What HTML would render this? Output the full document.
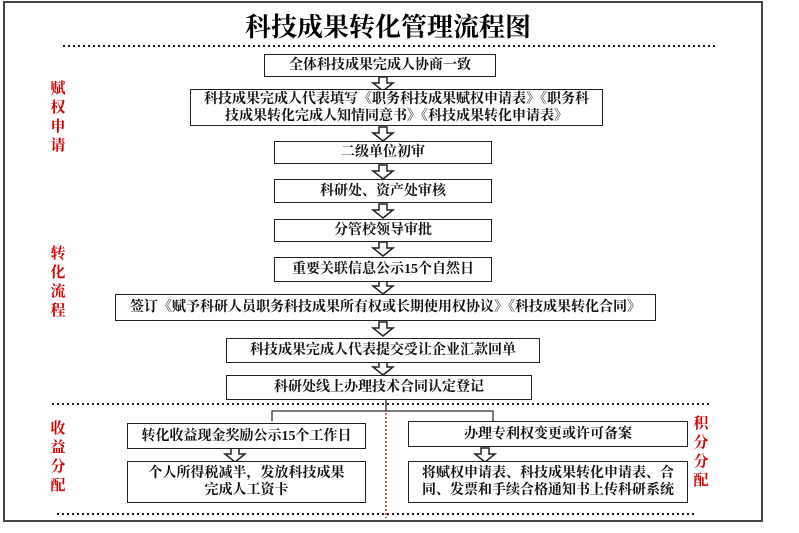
<!DOCTYPE html>
<html><head><meta charset="utf-8"><style>
body{margin:0;width:799px;height:533px;background:#fff;position:relative;overflow:hidden;font-family:"Liberation Serif","Noto Serif CJK SC",serif;}
.b{position:absolute;border:1.5px solid #222;box-sizing:border-box;display:flex;align-items:center;justify-content:center;text-align:center;font-size:14px;line-height:17px;color:#111;background:#fff;font-weight:bold;}
.r{position:absolute;color:#d40000;font-weight:bold;font-size:15px;line-height:19px;width:16px;text-align:center;}
svg{position:absolute;left:0;top:0;}
</style></head><body>
<svg width="799" height="533">
<rect x="4" y="2" width="758" height="519" fill="none" stroke="#444" stroke-width="2"/>
<g stroke="#222" stroke-width="2" stroke-dasharray="2,3">
<line x1="63" y1="46" x2="718" y2="46"/>
<line x1="52" y1="404" x2="712" y2="404"/>
<line x1="57" y1="514" x2="697" y2="514"/>
</g>
<line x1="386" y1="393" x2="386" y2="518" stroke="#d40000" stroke-width="1.3" stroke-dasharray="2,2"/>
<polyline points="272,421 272,411 493,411 493,421" fill="none" stroke="#333" stroke-width="1.3"/>
<line x1="386" y1="399" x2="386" y2="411" stroke="#333" stroke-width="1.3"/>
<g fill="#fff" stroke="#222" stroke-width="1.5">
<path id="a" d="M-4,0 h8 v6 h6 l-10,8 l-10,-8 h6 z" transform="translate(383,77)"/>
<use href="#a" x="0" y="50"/>
<use href="#a" x="0" y="88"/>
<use href="#a" x="0" y="127"/>
<use href="#a" x="0" y="165"/>
<use href="#a" x="0" y="203"/>
<use href="#a" x="0" y="245"/>
<use href="#a" x="0" y="284"/>
<use href="#a" x="-148" y="371"/>
<use href="#a" x="102" y="371"/>
</g>
</svg>
<div style="position:absolute;left:0;width:776px;top:12px;text-align:center;font-size:26px;font-weight:bold;line-height:32px;">科技成果转化管理流程图</div>
<div class="b" style="left:264px;top:54px;width:232px;height:23px;">全体科技成果完成人协商一致</div>
<div class="b" style="left:190px;top:89px;width:413px;height:37px;">科技成果完成人代表填写《职务科技成果赋权申请表》《职务科<br>技成果转化完成人知情同意书》《科技成果转化申请表》</div>
<div class="b" style="left:274px;top:141px;width:218px;height:23px;">二级单位初审</div>
<div class="b" style="left:274px;top:179px;width:218px;height:24px;">科研处、资产处审核</div>
<div class="b" style="left:274px;top:219px;width:218px;height:23px;">分管校领导审批</div>
<div class="b" style="left:274px;top:257px;width:218px;height:25px;">重要关联信息公示15个自然日</div>
<div class="b" style="left:115px;top:294px;width:541px;height:27px;">签订《赋予科研人员职务科技成果所有权或长期使用权协议》《科技成果转化合同》</div>
<div class="b" style="left:226px;top:338px;width:314px;height:25px;">科技成果完成人代表提交受让企业汇款回单</div>
<div class="b" style="left:226px;top:375px;width:306px;height:25px;">科研处线上办理技术合同认定登记</div>
<div class="b" style="left:127px;top:423px;width:239px;height:26px;">转化收益现金奖励公示15个工作日</div>
<div class="b" style="left:127px;top:461px;width:239px;height:42px;">个人所得税减半，发放科技成果<br>完成人工资卡</div>
<div class="b" style="left:408px;top:421px;width:280px;height:26px;">办理专利权变更或许可备案</div>
<div class="b" style="left:408px;top:461px;width:280px;height:42px;">将赋权申请表、科技成果转化申请表、合<br>同、发票和手续合格通知书上传科研系统</div>
<div class="r" style="left:50px;top:80px;">赋<br>权<br>申<br>请</div>
<div class="r" style="left:50px;top:245px;">转<br>化<br>流<br>程</div>
<div class="r" style="left:50px;top:420px;">收<br>益<br>分<br>配</div>
<div class="r" style="left:693px;top:415px;">积<br>分<br>分<br>配</div>
</body></html>
